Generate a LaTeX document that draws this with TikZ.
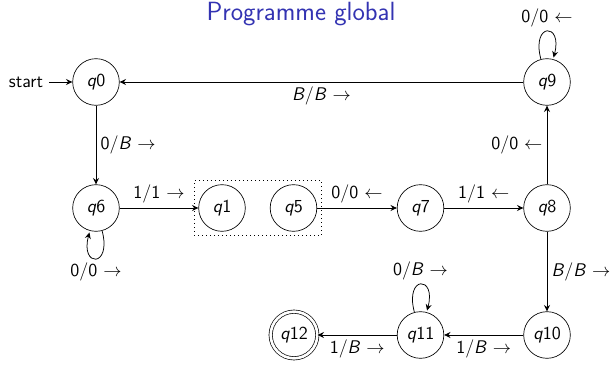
\documentclass[tikz,border=0pt]{standalone}
\usetikzlibrary{arrows.meta,fit,automata}
\definecolor{beamerblue}{rgb}{0.2,0.2,0.7}
\begin{document}
\begin{tikzpicture}[x=0.6pt,y=-0.6pt,
  font=\fontsize{11}{13}\selectfont\sffamily,
  >={Stealth[length=3.8pt,width=3.6pt,inset=1.3pt]},
  stateA/.style={circle,draw,minimum size=28pt,inner sep=0pt},
  acceptA/.style={stateA,double,double distance=1.6pt},
  trans/.style={->,line width=0.45pt},
  lbl/.style={inner sep=2.5pt}]
\useasboundingbox (0,0) rectangle (613,365);
\node[anchor=base,text=beamerblue,font=\fontsize{15.8}{19}\selectfont\sffamily,inner sep=0pt] (title) at (301,20.5) {Programme global};
\node[stateA] (q0) at (96,82) {\textit{q}0};
\node[stateA] (q9) at (547,82) {\textit{q}9};
\node[stateA] (q6) at (96,208) {\textit{q}6};
\node[stateA] (q1) at (222,208) {\textit{q}1};
\node[stateA] (q5) at (293.5,208) {\textit{q}5};
\node[stateA] (q7) at (420.5,208) {\textit{q}7};
\node[stateA] (q8) at (547,208) {\textit{q}8};
\node[stateA] (q10) at (547,335) {\textit{q}10};
\node[stateA] (q11) at (420.5,335) {\textit{q}11};
\node[acceptA] (q12) at (294,335) {\textit{q}12};
\node (start) at (26,82) {start};
\node[draw,dotted,fit=(q1)(q5),inner sep=2.4pt] (box) {};
\draw[trans] (start) -- (q0);
\draw[trans] (q9) -- node[lbl,below] {\textit{B}/\textit{B} $\rightarrow$} (q0);
\draw[trans] (q0) -- node[lbl,right] {0/\textit{B} $\rightarrow$} (q6);
\draw[trans] (q6) -- node[lbl,above] {1/1 $\rightarrow$} (q1);
\draw[trans] (q5) -- node[lbl,above] {0/0 $\leftarrow$} (q7);
\draw[trans] (q7) -- node[lbl,above] {1/1 $\leftarrow$} (q8);
\draw[trans] (q8) -- node[lbl,left] {0/0 $\leftarrow$} (q9);
\draw[trans] (q8) -- node[lbl,right] {\textit{B}/\textit{B} $\rightarrow$} (q10);
\draw[trans] (q10) -- node[lbl,below] {1/\textit{B} $\rightarrow$} (q11);
\draw[trans] (q11) -- node[lbl,below] {1/\textit{B} $\rightarrow$} (q12);
\draw[trans] (q9) edge[loop above] node[lbl,above] {0/0 $\leftarrow$} (q9);
\draw[trans] (q6) edge[loop below] node[lbl,below] {0/0 $\rightarrow$} (q6);
\draw[trans] (q11) edge[loop above] node[lbl,above] {0/\textit{B} $\rightarrow$} (q11);
\end{tikzpicture}
\end{document}
